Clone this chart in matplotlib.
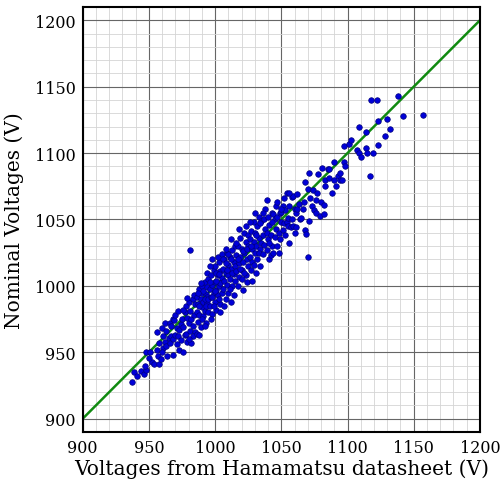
import matplotlib.pyplot as plt
from matplotlib.ticker import MultipleLocator

# Voltages from the Hamamatsu datasheet (x) and nominal voltages (y), in V
hamamatsu_v = [
    937, 939, 941, 944, 946, 948, 948, 951, 952, 954, 947, 950,
    956, 956, 957, 958, 959, 960, 961, 961, 962, 963, 963, 964, 965, 960, 958, 962,
    966, 966, 967, 967, 968, 968, 969, 970, 970, 971, 971, 972, 972, 973, 973, 974, 974, 975, 976, 968,
    976, 977, 977, 978, 978, 979, 979, 980, 980, 981, 981, 982, 982, 983, 983, 984, 984, 985, 985, 976, 979, 981, 983, 980,
    986, 986, 987, 987, 988, 988, 989, 989, 990, 990, 990, 991, 991, 992, 992, 993, 993, 994, 994, 995,
    995, 986, 988, 989, 991, 992, 993, 994, 987, 990, 994, 988, 992, 995,
    996, 996, 997, 997, 998, 998, 999, 999, 1000, 1000, 1000, 1001, 1001, 1002, 1002, 1003, 1003, 1004,
    1004, 1005, 1005, 996, 997, 998, 999, 1001, 1002, 1003, 1004, 1000, 1005, 996, 998, 1001, 1003, 1004,
    1006, 1006, 1007, 1007, 1008, 1008, 1009, 1009, 1010, 1010, 1010, 1011, 1011, 1012, 1012, 1013, 1013,
    1014, 1014, 1015, 1015, 1006, 1007, 1008, 1009, 1011, 1012, 1013, 1014, 1010, 1015, 1008, 1012,
    1016, 1016, 1017, 1017, 1018, 1018, 1019, 1019, 1020, 1020, 1021, 1021, 1022, 1022, 1023,
    1023, 1024, 1024, 1025, 1025, 1016, 1018, 1019, 1021, 1022, 1023, 1024, 1017, 1020, 1025,
    1026, 1026, 1027, 1027, 1028, 1028, 1029, 1029, 1030, 1030, 1031, 1031, 1032, 1032,
    1033, 1033, 1034, 1034, 1035, 1035, 1026, 1028, 1030, 1031, 1033, 1029, 1034, 1027,
    1036, 1036, 1037, 1037, 1038, 1038, 1039, 1039, 1040, 1040, 1041, 1041,
    1042, 1042, 1043, 1043, 1044, 1044, 1045, 1045, 1036, 1039, 1041, 1043,
    1046, 1046, 1047, 1047, 1048, 1048, 1049, 1049, 1050, 1050, 1051,
    1051, 1052, 1052, 1053, 1053, 1054, 1054, 1055, 1055, 1047, 1050,
    1056, 1056, 1057, 1058, 1058, 1059, 1059, 1060, 1060, 1061, 1061, 1062, 1062, 1063, 1064, 1065, 1056, 1066,
    1067, 1068, 1069, 1070, 1070, 1071, 1071, 1072, 1073, 1074, 1075, 1068,
    1076, 1076, 1078, 1079, 1080, 1081, 1082, 1082, 1083, 1083, 1085, 1077,
    1086, 1086, 1088, 1090, 1090, 1091, 1093, 1094, 1094, 1096, 1097, 1097, 1098,
    1101, 1103, 1107, 1109, 1109, 1110, 1114, 1114, 1115, 1117, 1118, 1119, 1122, 1123, 1123,
    1128, 1130, 1132, 1138, 1142, 1157,
]
nominal_v = [
    928, 935, 932, 936, 934, 937, 950, 950, 943, 941, 940, 946,
    952, 965, 947, 941, 945, 968, 953, 962, 958, 955, 966, 947, 961, 950, 957, 972,
    957, 972, 970, 962, 960, 975, 974, 963, 978, 956, 968, 962, 981, 967, 952, 971, 959, 975, 950, 948,
    969, 963, 980, 985, 964, 958, 976, 972, 988, 1027, 966, 975, 957, 990, 970, 978, 993, 986, 965, 982, 991, 981, 962, 960,
    980, 992, 973, 986, 998, 978, 990, 969, 984, 995, 1000, 977, 988, 1003, 981, 994, 972, 987, 999, 980,
    1005, 964, 985, 1002, 996, 970, 985, 992, 995, 975, 1010, 963, 990, 990,
    998, 985, 1008, 992, 1001, 979, 1012, 995, 988, 1003, 1015, 997, 982, 1008, 993, 1018, 1000, 986,
    1011, 995, 1006, 1015, 975, 1020, 985, 1010, 1022, 990, 1002, 996, 1024, 1003, 992, 1004, 1009, 980,
    1013, 998, 1020, 1004, 990, 1010, 1025, 1001, 1016, 995, 1008, 1022, 1005, 1013, 988, 1027, 1000,
    1018, 1009, 1004, 1030, 1020, 985, 1017, 1012, 998, 1035, 1010, 993, 1024, 1015, 1028, 1020,
    1011, 1023, 1000, 1030, 1017, 1007, 1036, 1022, 1012, 1028, 997, 1018, 1040, 1025, 1008,
    1033, 1020, 1003, 1030, 1015, 1032, 1043, 1013, 1026, 1010, 1045, 1028, 1020, 1005, 1038,
    1022, 1035, 1012, 1041, 1028, 1018, 1048, 1033, 1025, 1040, 1010, 1030, 1045, 1020,
    1036, 1052, 1028, 1015, 1049, 1032, 1048, 1004, 1055, 1038, 1025, 1016, 1047, 1030,
    1038, 1024, 1050, 1031, 1043, 1058, 1027, 1040, 1052, 1035, 1020, 1046,
    1023, 1038, 1030, 1055, 1054, 1025, 1050, 1037, 1055, 1065, 1032, 1048,
    1043, 1060, 1030, 1052, 1025, 1040, 1055, 1035, 1048, 1056, 1060,
    1042, 1047, 1066, 1038, 1057, 1048, 1070, 1051, 1045, 1063, 1058,
    1032, 1060, 1044, 1067, 1050, 1045, 1068, 1040, 1058, 1044, 1055, 1069, 1058, 1062, 1050, 1051, 1070, 1058,
    1063, 1042, 1039, 1073, 1022, 1085, 1049, 1066, 1060, 1072, 1057, 1078,
    1065, 1055, 1084, 1053, 1063, 1089, 1061, 1054, 1075, 1080, 1088, 1070,
    1081, 1088, 1070, 1080, 1093, 1075, 1083, 1085, 1080, 1080, 1093, 1105, 1090,
    1107, 1110, 1102, 1100, 1120, 1097, 1116, 1104, 1100, 1083, 1140, 1100, 1140, 1124, 1106,
    1113, 1126, 1118, 1143, 1128, 1129,
]

# reference line y = x
ref_line = [900, 1200]
ticks = [900, 950, 1000, 1050, 1100, 1150, 1200]

plt.rcParams['font.family'] = 'DejaVu Serif'

fig = plt.figure(figsize=(5.01, 4.81), dpi=100)
ax = fig.add_axes([0.165, 0.0998, 0.793, 0.8836])

ax.plot(ref_line, ref_line, color='#108a10', linewidth=1.8, zorder=2)
ax.scatter(hamamatsu_v, nominal_v, s=16, color='#0000d8', edgecolors='#00007a',
           linewidths=0.5, zorder=3)

ax.set_xlim(900, 1200)
ax.set_ylim(890, 1210)
ax.set_xticks(ticks)
ax.set_yticks(ticks)
ax.xaxis.set_minor_locator(MultipleLocator(10))
ax.yaxis.set_minor_locator(MultipleLocator(10))
ax.grid(which='major', color='#666666', linewidth=0.8, zorder=0)
ax.grid(which='minor', color='#d4d4d4', linewidth=0.6, zorder=0)
ax.set_axisbelow(True)
ax.tick_params(which='both', length=0, labelsize=11.5, pad=5)

for sp in ax.spines.values():
    sp.set_linewidth(1.5)

ax.set_xlabel("Voltages from Hamamatsu datasheet (V)", fontsize=14.5, labelpad=2)
ax.set_ylabel("Nominal Voltages (V)", fontsize=14.5, labelpad=8)

plt.savefig('out.png', dpi=100)
